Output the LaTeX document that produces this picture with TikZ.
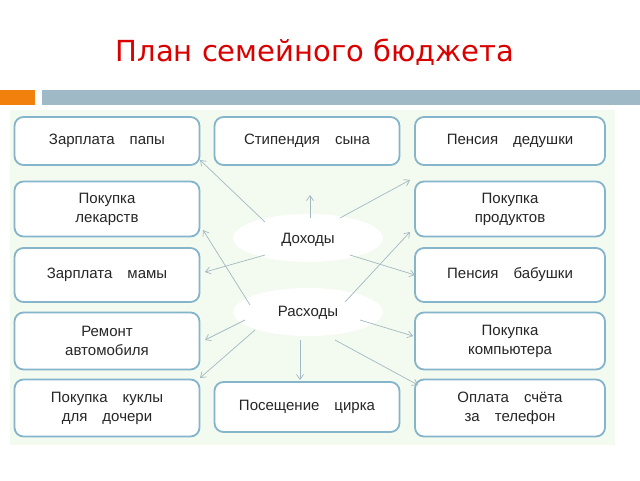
\documentclass[tikz,border=0pt]{standalone}
\usepackage{fontspec}
\usetikzlibrary{shapes.geometric,arrows.meta}
\setmainfont{Liberation Sans}
\newfontfamily\titlefont{DejaVu Sans}
\begin{document}
\begin{tikzpicture}[x=1pt,y=-1pt,
  box/.style={draw=cyan!45!gray!80, line width=1.8pt, rounded corners=9pt, fill=white, align=center, font=\fontsize{15}{19}\selectfont, text=black!85},
  ell/.style={ellipse, fill=white, minimum width=150pt, minimum height=48pt},
  arr/.style={-{Straight Barb[length=5pt,width=7pt]}, draw=cyan!25!gray!70, line width=0.7pt}]
\useasboundingbox (0,0) rectangle (640,480);
\fill[white] (0,0) rectangle (640,480);
\node[text=red!85!black, font=\titlefont\fontsize{29}{34}\selectfont] (title) at (315,52) {План семейного бюджета};
\fill[orange!80!brown] (0,90) rectangle (35,105);
\fill[cyan!30!gray!70] (42,90) rectangle (640,105);
\fill[yellow!18!green!6] (10,110) rectangle (615,445);
% boxes
\node[box, minimum width=185pt, minimum height=48pt] (zp) at (107,141) {Зарплата\quad папы};
\node[box, minimum width=185pt, minimum height=55pt] (pl) at (107,209) {Покупка\\лекарств};
\node[box, minimum width=185pt, minimum height=54pt] (zm) at (107,275) {Зарплата\quad мамы};
\node[box, minimum width=185pt, minimum height=57pt] (ra) at (107,341) {Ремонт\\автомобиля};
\node[box, minimum width=185pt, minimum height=57pt] (pk) at (107,408) {Покупка\quad куклы\\для\quad дочери};
\node[box, minimum width=185pt, minimum height=48pt] (st) at (307,141) {Стипендия\quad сына};
\node[box, minimum width=185pt, minimum height=50pt] (pc) at (307,407) {Посещение\quad цирка};
\node[box, minimum width=190pt, minimum height=48pt] (pd) at (510,141) {Пенсия\quad дедушки};
\node[box, minimum width=190pt, minimum height=55pt] (pp) at (510,209) {Покупка\\продуктов};
\node[box, minimum width=190pt, minimum height=54pt] (pb) at (510,275) {Пенсия\quad бабушки};
\node[box, minimum width=190pt, minimum height=57pt] (kp) at (510,341) {Покупка\\компьютера};
\node[box, minimum width=190pt, minimum height=57pt] (ot) at (510,408) {Оплата\quad счёта\\за\quad телефон};
% ellipses
\node[ell] (doh) at (308,238) {};
\node[ell] (ras) at (308,312) {};
\node[font=\fontsize{15}{19}\selectfont, text=black!85] (dt) at (308,240) {Доходы};
\node[font=\fontsize{15}{19}\selectfont, text=black!85] (rt) at (308,313) {Расходы};
% arrows
\coordinate (d1) at (265,222); \coordinate (d2) at (310,218); \coordinate (d3) at (340,218);
\coordinate (d4) at (265,255); \coordinate (d5) at (350,255);
\coordinate (r1) at (250,305); \coordinate (r2) at (345,302); \coordinate (r3) at (245,320);
\coordinate (r4) at (360,320); \coordinate (r5) at (255,330); \coordinate (r6) at (300,340); \coordinate (r7) at (335,340);
\coordinate (a1) at (200,160); \coordinate (a2) at (310,195); \coordinate (a3) at (410,180);
\coordinate (a4) at (205,272); \coordinate (a5) at (415,275);
\coordinate (b1) at (203,230); \coordinate (b2) at (410,232); \coordinate (b3) at (205,340);
\coordinate (b4) at (413,336); \coordinate (b5) at (200,378); \coordinate (b6) at (300,380); \coordinate (b7) at (418,385);
\foreach \s/\t in {d1/a1,d2/a2,d3/a3,d4/a4,d5/a5,r1/b1,r2/b2,r3/b3,r4/b4,r5/b5,r6/b6,r7/b7}
  \draw[arr] (\s) -- (\t);
\end{tikzpicture}
\end{document}
